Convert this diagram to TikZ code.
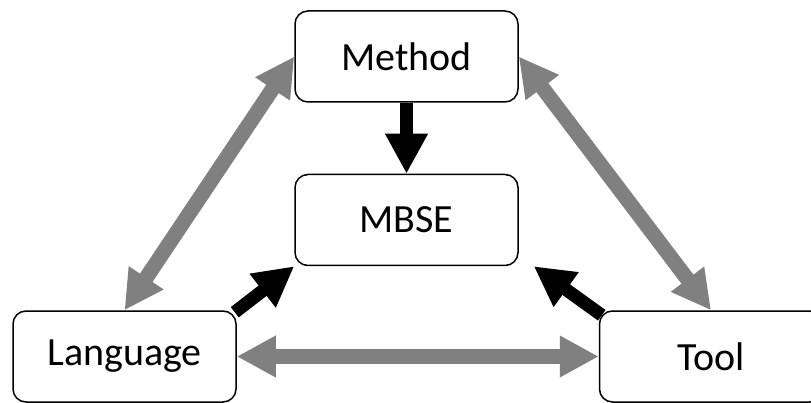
\documentclass[tikz,border=0pt]{standalone}
\usepackage{fontspec}
\setmainfont{Carlito}
\usepackage{tikz}
\usetikzlibrary{arrows.meta}
\definecolor{cg}{RGB}{128, 128, 128}
\tikzset{
  box/.style={rectangle, rounded corners=13pt, minimum width=223pt, minimum height=91pt, line width=1.5pt, draw=black, fill=white, font=\fontsize{40}{48}\selectfont},
  blackarrow/.style={line width=13pt, color=black, -{Triangle[width=40pt, length=40pt]}},
  grayarrow/.style={line width=15pt, color=cg, {Triangle[width=39pt, length=39pt]}-{Triangle[width=39pt, length=39pt]}}
}

\begin{document}
\begin{tikzpicture}
\useasboundingbox (0pt, 0pt) rectangle (811pt, -403pt);
\node (method) [box] at (406.5pt, -56.5pt) {Method};
\node (mbse) [box] at (406.5pt, -220.0pt) {MBSE};
\node (language) [box] at (124.5pt, -356.5pt) {Language};
\node (tool) [box] at (711.0pt, -356.5pt) {Tool};
\coordinate (mbsetip) at ([xshift=15pt]mbse.south east);
\draw [blackarrow] (method) to (mbse);
\draw [blackarrow] ([xshift=-2pt, yshift=-2pt]language.north east) to (mbse.south west);
\draw [blackarrow] ([xshift=3pt, yshift=-5pt]tool.north west) to (mbsetip);
\draw [grayarrow] (language.north) to (method.west);
\draw [grayarrow] (method.east) to (tool.north);
\draw [grayarrow] (language.east) to (tool.west);
\end{tikzpicture}
\end{document}
